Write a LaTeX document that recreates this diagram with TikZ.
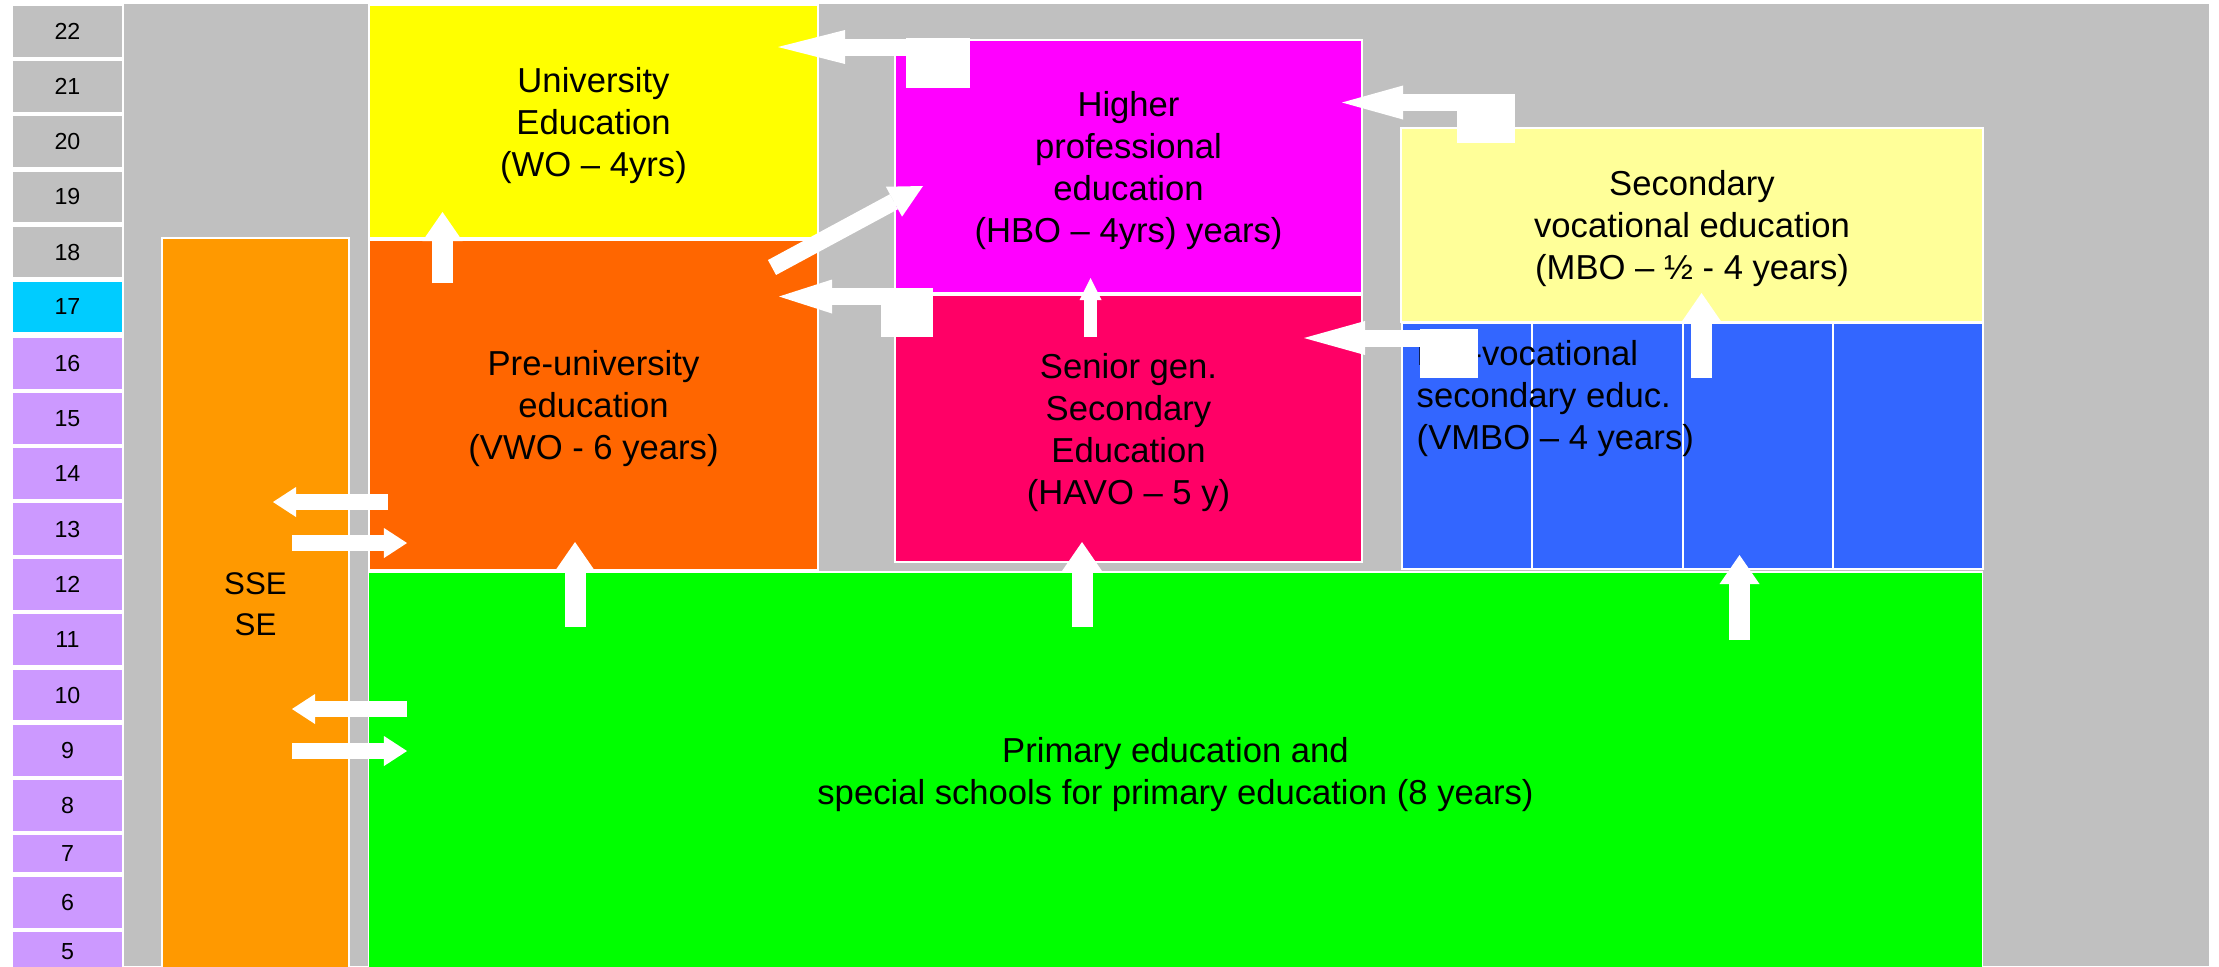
\documentclass[tikz,border=0pt]{standalone}
\usepackage{fontspec}
\setmainfont{Liberation Sans}
\usetikzlibrary{arrows.meta}
\definecolor{bggray}{HTML}{C0C0C0}
\definecolor{woyellow}{HTML}{FFFF00}
\definecolor{vwoorange}{HTML}{FF6600}
\definecolor{sseorange}{HTML}{FF9900}
\definecolor{hbomagenta}{HTML}{FF00FF}
\definecolor{havored}{HTML}{FF0066}
\definecolor{mboyellow}{HTML}{FFFF99}
\definecolor{vmboblue}{HTML}{3366FF}
\definecolor{primgreen}{HTML}{00FF00}
\definecolor{agecyan}{HTML}{00CCFF}
\definecolor{agelilac}{HTML}{CC99FF}
\begin{document}
\begin{tikzpicture}[x=0.01cm,y=-0.01cm]
        \tikzset{
            agecell/.style={draw=white,line width=0.02cm,minimum width=1.11cm,inner sep=0pt,font=\fontsize{6.6}{8}\selectfont},
            stage/.style={draw=white,line width=0.015cm,inner sep=0pt,align=center,text depth=0pt,font=\fontsize{9.85}{11.95}\selectfont},
            stub/.style={fill=white,inner sep=0pt},
            flow/.style={draw=white,line width=0.16cm,-{Triangle[length=0.23cm,width=0.30cm,line width=0pt]}},
            upflow/.style={draw=white,line width=0.21cm,-{Triangle[length=0.29cm,width=0.40cm,line width=0pt]}},
            thinflow/.style={draw=white,line width=0.13cm,-{Triangle[length=0.22cm,width=0.22cm,line width=0pt]}},
            turnflow/.style={draw=white,line width=0.17cm,-{Triangle[length=#1,width=0.34cm,line width=0pt]}},
            turnflow/.default=0.6cm,
        }
        \useasboundingbox (0,0) rectangle (2219,966);
        \fill[white] (0,0) rectangle (2219,966);
        \fill[bggray] (124,4) rectangle (2209,966);

        \foreach \age/\ya/\yb/\shade in {22/5/58/bggray,21/60/113/bggray,20/115/168/bggray,19/171/223/bggray,18/226/278/bggray,17/281/333/agecyan,16/337/390/agelilac,15/392/445/agelilac,14/447/500/agelilac,13/502/556/agelilac,12/558/611/agelilac,11/613/666/agelilac,10/669/721/agelilac,9/724/777/agelilac,8/779/832/agelilac,7/834/873/agelilac,6/876/929/agelilac,5/931/973/agelilac}
            \node[agecell,fill=\shade,minimum height={(\yb-\ya)*0.01cm}] (age\age) at (67.5,{(\ya+\yb)/2}) {\age};

        \node[stage,fill=woyellow,minimum width=4.49cm,minimum height=2.33cm] (wo) at (593.5,121.5) {University\\Education\\(WO – 4yrs)};
        \node[stage,fill=vwoorange,minimum width=4.49cm,minimum height=3.30cm] (vwo) at (593.5,405) {Pre-university\\education\\(VWO - 6 years)};
        \node[stage,fill=sseorange,minimum width=1.87cm,minimum height=7.32cm,font=\fontsize{8.9}{11.67}\selectfont] (sse) at (255.5,604) {SSE\\SE};
        \node[stage,fill=hbomagenta,minimum width=4.67cm,minimum height=2.53cm] (hbo) at (1128.5,166.5) {Higher\\professional\\education\\(HBO – 4yrs) years)};
        \node[stage,fill=havored,minimum width=4.67cm,minimum height=2.67cm] (havo) at (1128.5,428.5) {Senior gen.\\Secondary\\Education\\(HAVO – 5 y)};
        \node[stage,fill=mboyellow,minimum width=5.82cm,minimum height=1.94cm] (mbo) at (1692,225) {Secondary\\vocational education\\(MBO – ½ - 4 years)};
        \node[stage,fill=vmboblue,minimum width=5.81cm,minimum height=2.46cm] (vmbo) at (1692.5,446) {};
        \node[stage,fill=primgreen,minimum width=16.13cm,minimum height=3.98cm] (prim) at (1175.5,771) {Primary education and\\special schools for primary education (8 years)};
        \foreach \xd in {1532,1683,1833}
            \draw[white,line width=0.015cm] (\xd,323) -- (\xd,569);
        \node[anchor=north west,inner sep=0pt,align=left,font=\fontsize{9.85}{11.95}\selectfont] (vmbolabel) at (1416,340) {Pre-vocational\\secondary educ.\\(VMBO – 4 years)};

        \coordinate (vwo-a) at (388,502);
        \coordinate (sse-a) at (273,502);
        \coordinate (sse-b) at (292,543);
        \coordinate (vwo-b) at (407,543);
        \coordinate (prim-a) at (407,709);
        \coordinate (sse-c) at (292,709);
        \coordinate (sse-d) at (292,751);
        \coordinate (prim-b) at (407,751);
        \draw[flow] (vwo-a) -- (sse-a);
        \draw[flow] (sse-b) -- (vwo-b);
        \draw[flow] (prim-a) -- (sse-c);
        \draw[flow] (sse-d) -- (prim-b);

        \coordinate (prim-c) at (575,627);
        \coordinate (vwo-c) at (575,542);
        \coordinate (prim-d) at (1082,627);
        \coordinate (havo-d) at (1082,542);
        \coordinate (prim-e) at (1739.5,640);
        \coordinate (vmbo-e) at (1739.5,555);
        \coordinate (vwo-f) at (442.5,283);
        \coordinate (wo-f) at (442.5,212);
        \coordinate (vmbo-g) at (1701.5,378);
        \coordinate (mbo-g) at (1701.5,293);
        \coordinate (havo-h) at (1090.5,337);
        \coordinate (hbo-h) at (1090.5,278);
        \draw[upflow] (prim-c) -- (vwo-c);
        \draw[upflow] (prim-d) -- (havo-d);
        \draw[upflow] (prim-e) -- (vmbo-e);
        \draw[upflow] (vwo-f) -- (wo-f);
        \draw[upflow] (vmbo-g) -- (mbo-g);
        \draw[thinflow] (havo-h) -- (hbo-h);

        \coordinate (vwo-i) at (772,267.5);
        \coordinate (hbo-i) at (923,186);
        \draw[turnflow=0.33cm] (vwo-i) -- (hbo-i);

        \node[stub,minimum width=0.64cm,minimum height=0.50cm] (stub1) at (938,63) {};
        \node[stub,minimum width=0.58cm,minimum height=0.49cm] (stub2) at (1486,118.5) {};
        \node[stub,minimum width=0.52cm,minimum height=0.49cm] (stub3) at (907,312.5) {};
        \node[stub,minimum width=0.58cm,minimum height=0.49cm] (stub4) at (1449,353.5) {};
        \coordinate (hbo-j) at (970,47);
        \coordinate (wo-j) at (778,47);
        \coordinate (mbo-k) at (1515,102.5);
        \coordinate (hbo-k) at (1342,102.5);
        \coordinate (havo-l) at (933,296.5);
        \coordinate (vwo-l) at (779,296.5);
        \coordinate (vmbo-m) at (1478,338);
        \coordinate (havo-m) at (1304,338);
        \draw[turnflow=0.67cm] (hbo-j) -- (wo-j);
        \draw[turnflow=0.61cm] (mbo-k) -- (hbo-k);
        \draw[turnflow=0.53cm] (havo-l) -- (vwo-l);
        \draw[turnflow=0.61cm] (vmbo-m) -- (havo-m);
    \end{tikzpicture}
\end{document}
